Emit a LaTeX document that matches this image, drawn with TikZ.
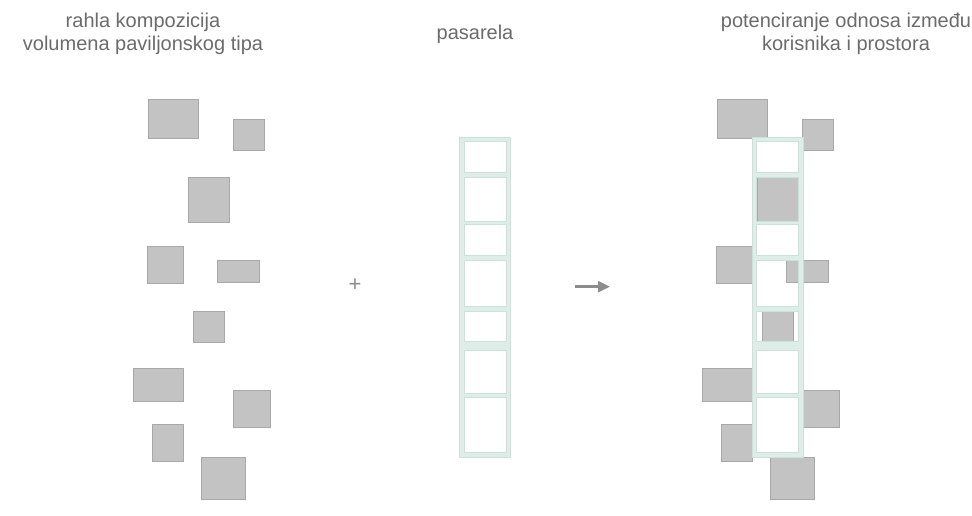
\documentclass[tikz,border=0pt]{standalone}
\usepackage{fontspec}
\setmainfont{Liberation Sans}
\usetikzlibrary{arrows.meta}

\definecolor{volumen}{HTML}{C2C3C2}
\definecolor{volumenrub}{HTML}{A7A8A7}
\definecolor{pasarela}{HTML}{DFEDE8}
\definecolor{pasarelarub}{HTML}{CBE2DA}
\definecolor{tekst}{HTML}{6B6B6B}
\definecolor{znak}{HTML}{8C8C8C}

\tikzset{
    volumen/.style={fill=volumen, draw=volumenrub, line width=1pt},
    pasarela/.style={fill=pasarela, draw=pasarelarub, line width=0.8pt, even odd rule},
    naslov/.style={text=tekst, align=center, inner sep=0pt, anchor=base,
        font=\fontsize{20}{23}\selectfont},
    strelica/.style={draw=znak, line width=2.6pt, -{Triangle[length=12pt, width=11pt]}}
}

\begin{document}
\begin{tikzpicture}[x=1pt, y=-1pt]
            \useasboundingbox (0, 0) rectangle (972, 515);

            \node[naslov] (rahla) at (143, 50) {rahla kompozicija\\volumena paviljonskog tipa};
            \node[naslov] (pasarelanaslov) at (475, 39.3) {pasarela};
            \node[naslov] (odnos) at (846, 50) {potenciranje odnosa između\\korisnika i prostora};

            \foreach \pomak in {0, 569}
                \foreach \xa/\ya/\xb/\yb in {148/99/198/138, 233/119/264/150, 188/177/229/222,
                    147/246/183/283, 217/260/259/282, 193/311/224/342, 133/368/183/401,
                    233/390/270/427, 152/424/183/461, 201/457/245/499}
                    \draw[volumen] (\xa+\pomak, \ya) rectangle (\xb+\pomak, \yb);

            \foreach \pomak in {0, 292.5}
                \draw[pasarela] (459.5+\pomak, 137.5) rectangle (510.5+\pomak, 457)
                    \foreach \ya/\yb in {141.7/172.3, 177.7/221, 224.3/255.7, 260/306,
                        311/341.7, 350/393.3, 397.3/452.3}
                    { (464+\pomak, \ya) rectangle (506+\pomak, \yb) };

            \node[text=znak, font=\fontsize{22}{22}\selectfont, inner sep=0pt] (plus) at (355, 285) {+};

            \coordinate (strelicapocetak) at (575, 286.7);
            \coordinate (strelicakraj) at (610, 286.7);
            \draw[strelica] (strelicapocetak) -- (strelicakraj);
        \end{tikzpicture}
\end{document}
